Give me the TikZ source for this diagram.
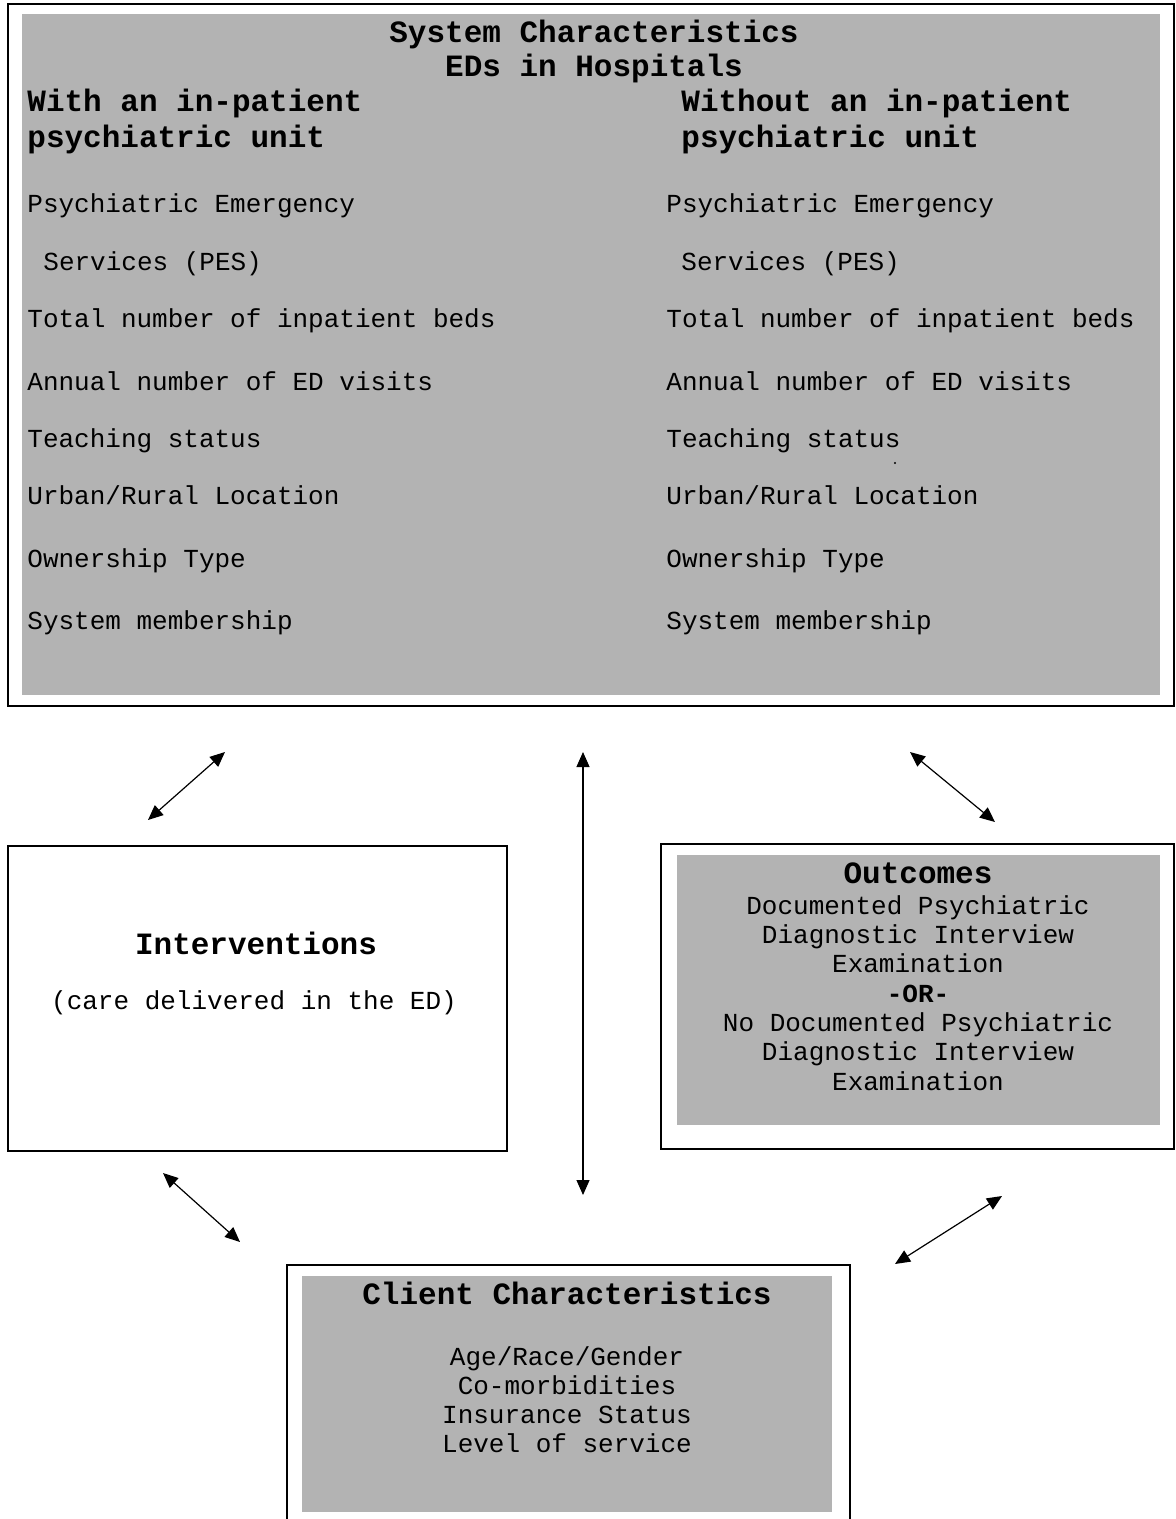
\documentclass[tikz,border=0pt]{standalone}
\usepackage{fontspec}
\setmainfont{Liberation Mono}
\usetikzlibrary{arrows.meta}
\definecolor{boxgray}{RGB}{179,179,179}

\tikzset{
    boxframe/.style={draw, line width=1pt, inner sep=0pt, anchor=north west},
    boxfill/.style={fill=boxgray, inner sep=0pt, anchor=north west},
    entry/.style={inner sep=0pt, anchor=base west, font=\fontsize{13}{14.65}\selectfont},
    heading/.style={inner sep=0pt, font=\fontsize{15.5}{17.5}\selectfont\bfseries},
    rel/.style={<->, line width=0.6pt}
}

\begin{document}
\begin{tikzpicture}[x=0.5pt, y=-0.5pt, >={Triangle[length=7.5pt, width=6.5pt]}]

    \useasboundingbox (0,0) rectangle (1175,1519);

    % Boxes
    \node (S) [boxframe, minimum width=583pt, minimum height=351pt] at (7,3) {};
    \node (Sf) [boxfill, minimum width=569pt, minimum height=340.5pt] at (22,14) {};
    \node (I) [boxframe, minimum width=249.5pt, minimum height=152.5pt] at (7,845) {};
    \node (O) [boxframe, minimum width=256.5pt, minimum height=152.5pt] at (660,843) {};
    \node (Of) [boxfill, minimum width=241.5pt, minimum height=135pt] at (677,855) {};
    \node (C) [boxfill, minimum width=265pt, minimum height=118pt] at (302,1276) {};
    \draw[line width=1pt] (287,1519) |- (850,1265) -- (850,1519);

    % System characteristics (base = last line)
    \node (title) [heading, align=center, anchor=base, font=\fontsize{15.5}{17}\selectfont\bfseries] at (594,77) {System Characteristics\\EDs in Hospitals};
    \node (W) [heading, align=left, anchor=base west, font=\fontsize{15.5}{18}\selectfont\bfseries] at (27,148) {With an in-patient\\psychiatric unit};
    \node (WO) [heading, align=left, anchor=base west, font=\fontsize{15.5}{18}\selectfont\bfseries] at (681,148) {Without an in-patient\\psychiatric unit};

    \node (PES1) [entry] at (27,213) {Psychiatric Emergency};
    \node (SRV1) [entry] at (43,271) {Services (PES)};
    \node (BED1) [entry] at (27,328) {Total number of inpatient beds};
    \node (VIS1) [entry] at (27,390) {Annual number of ED visits};
    \node (TCH1) [entry] at (27,447) {Teaching status};
    \node (LOC1) [entry] at (27,504) {Urban/Rural Location};
    \node (OWN1) [entry] at (27,567) {Ownership Type};
    \node (MEM1) [entry] at (27,629) {System membership};

    \node (PES2) [entry, right of=PES1, node distance=319.5pt] {Psychiatric Emergency};
    \node (SRV2) [entry, right of=SRV1, node distance=319pt] {Services (PES)};
    \node (BED2) [entry, right of=BED1, node distance=319.5pt] {Total number of inpatient beds};
    \node (VIS2) [entry, right of=VIS1, node distance=319.5pt] {Annual number of ED visits};
    \node (TCH2) [entry, right of=TCH1, node distance=319.5pt] {Teaching status};
    \node (LOC2) [entry, right of=LOC1, node distance=319.5pt] {Urban/Rural Location};
    \node (OWN2) [entry, right of=OWN1, node distance=319.5pt] {Ownership Type};
    \node (MEM2) [entry, right of=MEM1, node distance=319.5pt] {System membership};
    \fill (895,463) circle (0.6pt);

    % Interventions, outcomes, clients
    \node (I1) [heading, anchor=base] at (256,954) {Interventions};
    \node (I2) [entry, anchor=base] at (254,1009) {(care delivered in the ED)};

    \node (O1) [heading, anchor=base] at (918,883) {Outcomes};
    \node (O2) [entry, align=center, anchor=base] at (918,1090) {Documented Psychiatric\\Diagnostic Interview\\Examination\\\textbf{-OR-}\\No Documented Psychiatric\\Diagnostic Interview\\Examination};

    \node (C1) [heading, anchor=base] at (567,1304) {Client Characteristics};
    \node (C2) [entry, align=center, anchor=base, font=\fontsize{13}{14.5}\selectfont] at (567,1452) {Age/Race/Gender\\Co-morbidities\\Insurance Status\\Level of service};

    % Arrow ends
    \coordinate (SI) at (225,752);
    \coordinate (IS) at (148,820);
    \coordinate (SC) at (583,752);
    \coordinate (CS) at (583,1195);
    \coordinate (SO) at (910,752);
    \coordinate (OS) at (995,822);
    \coordinate (IC) at (163,1173);
    \coordinate (CI) at (240,1242);
    \coordinate (OC) at (1002,1196);
    \coordinate (CO) at (895,1264);

    % Arrows
    \draw[rel] (IS) -- (SI);
    \draw[rel] (CS) -- (SC);
    \draw[rel] (SO) -- (OS);
    \draw[rel] (IC) -- (CI);
    \draw[rel] (OC) -- (CO);

\end{tikzpicture}
\end{document}
